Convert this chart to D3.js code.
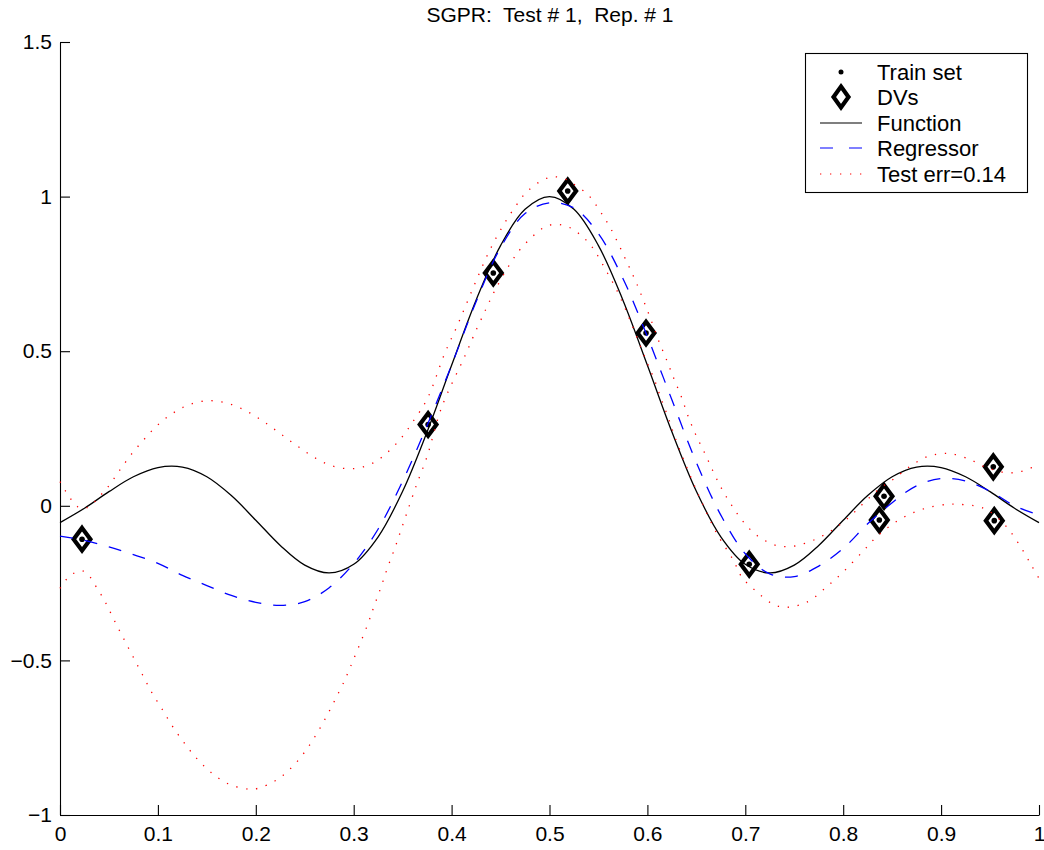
<!DOCTYPE html>
<html>
<head>
<meta charset="utf-8">
<script src="https://cdn.jsdelivr.net/npm/d3@7"></script>
<style>
  html, body { margin: 0; padding: 0; background: #fff; }
  svg { display: block; font-family: "Liberation Sans", Arial, Helvetica, sans-serif; }
</style>
</head>
<body>
<svg id="chart" width="1044" height="850"></svg>
<script>
// ---------- data ----------
const titleText = "SGPR:  Test # 1,  Rep. # 1";
const xTicks = [0, 0.1, 0.2, 0.3, 0.4, 0.5, 0.6, 0.7, 0.8, 0.9, 1];
const xTickLabels = ["0", "0.1", "0.2", "0.3", "0.4", "0.5", "0.6", "0.7", "0.8", "0.9", "1"];
const yTicks = [-1, -0.5, 0, 0.5, 1, 1.5];
const yTickLabels = ["\u22121", "\u22120.5", "0", "0.5", "1", "1.5"];
const legendLabels = ["Train set", "DVs", "Function", "Regressor", "Test err=0.14"];

// true function (black)
const funcX = [0, 0.025, 0.05, 0.075, 0.1, 0.125, 0.15, 0.175, 0.2, 0.225, 0.25, 0.275, 0.3, 0.325, 0.35, 0.375, 0.4, 0.425, 0.45, 0.475, 0.5,
               0.525, 0.55, 0.575, 0.6, 0.625, 0.65, 0.675, 0.7, 0.725, 0.75, 0.775, 0.8, 0.825, 0.85, 0.875, 0.9, 0.925, 0.95, 0.975, 1];
const funcY = [-0.0544, -0.0079, 0.0458, 0.0939, 0.1237, 0.1251, 0.0939, 0.0331, -0.0466, -0.1283, -0.1918, -0.2172, -0.1892, -0.1002, 0.0470, 0.2394, 0.4546, 0.6650, 0.8415, 0.9589, 1.0,
               0.9589, 0.8415, 0.6650, 0.4546, 0.2394, 0.0470, -0.1002, -0.1892, -0.2172, -0.1918, -0.1283, -0.0466, 0.0331, 0.0939, 0.1251, 0.1237, 0.0939, 0.0458, -0.0079, -0.0544];

// regressor (blue dashed)
const regX = funcX;
const regY = [-0.098, -0.112, -0.133, -0.158, -0.186, -0.225, -0.258, -0.290, -0.312, -0.322, -0.310, -0.265, -0.187, -0.075, 0.080, 0.260, 0.455, 0.660, 0.835, 0.945, 0.980,
              0.963, 0.880, 0.735, 0.547, 0.343, 0.140, -0.030, -0.155, -0.220, -0.229, -0.195, -0.138, -0.058, 0.010, 0.065, 0.088, 0.080, 0.047, 0.000, -0.030];

// upper error band (red dotted)
const upperX = [0, 0.005, 0.011, 0.018, 0.023, 0.027, 0.035, 0.042, 0.049, 0.061, 0.073, 0.0865, 0.0987, 0.115, 0.1328, 0.153, 0.174, 0.193, 0.21, 0.226,
                0.2434, 0.261, 0.279, 0.2996, 0.3195, 0.336, 0.35, 0.36, 0.375, 0.393, 0.406, 0.422, 0.439, 0.4535, 0.465, 0.4767, 0.494, 0.504, 0.515, 0.524,
                0.5397, 0.5516, 0.5625, 0.5805, 0.589, 0.597, 0.605, 0.612, 0.6197, 0.627, 0.635, 0.6418, 0.65, 0.6588, 0.6673, 0.6766, 0.686, 0.698, 0.7123, 0.7303,
                0.7406, 0.7508, 0.7712, 0.79, 0.8062, 0.8223, 0.837, 0.853, 0.869, 0.8877, 0.908, 0.9278, 0.9364, 0.945, 0.955, 0.966, 0.9765, 0.9863, 0.996, 1];
const upperY = [0.078, 0.051, 0.022, -0.003, -0.008, -0.007, 0.012, 0.036, 0.061, 0.115, 0.167, 0.217, 0.258, 0.299, 0.328, 0.340, 0.329, 0.302, 0.268, 0.231,
                0.191, 0.154, 0.128, 0.120, 0.138, 0.177, 0.225, 0.270, 0.345, 0.493, 0.584, 0.705, 0.827, 0.911, 0.967, 1.015, 1.055, 1.064, 1.058, 1.042,
                1.005, 0.953, 0.897, 0.778, 0.719, 0.656, 0.590, 0.530, 0.471, 0.412, 0.350, 0.288, 0.226, 0.169, 0.110, 0.051, 0.002, -0.052, -0.097, -0.127,
                -0.132, -0.130, -0.109, -0.076, -0.036, 0.013, 0.055, 0.090, 0.129, 0.161, 0.169, 0.152, 0.139, 0.125, 0.115, 0.107, 0.108, 0.115, 0.129, 0.135];

// lower error band (red dotted)
const lowerX = [0, 0.006, 0.0136, 0.0228, 0.0306, 0.0364, 0.0419, 0.047, 0.056, 0.0654, 0.0749, 0.0845, 0.0943, 0.104, 0.1147, 0.1267, 0.1396, 0.1546, 0.1716, 0.1917,
                0.2019, 0.2206, 0.2367, 0.25, 0.2615, 0.2717, 0.2812, 0.2904, 0.2945, 0.314, 0.321, 0.328, 0.3347, 0.342, 0.3487, 0.3555, 0.3623, 0.3657, 0.375, 0.39,
                0.4137, 0.422, 0.435, 0.444, 0.46, 0.4716, 0.4936, 0.504, 0.514, 0.5237, 0.532, 0.5397, 0.5465, 0.5567, 0.567, 0.5755, 0.583, 0.5986, 0.607, 0.6136,
                0.621, 0.628, 0.6435, 0.6554, 0.6708, 0.6878, 0.6963, 0.7116, 0.727, 0.7372, 0.7474, 0.7576, 0.7668, 0.7831, 0.7984, 0.8205, 0.8342, 0.85, 0.868, 0.8877,
                0.908, 0.918, 0.9387, 0.9482, 0.96, 0.9704, 0.9823, 0.9925, 1];
const lowerY = [-0.267, -0.240, -0.219, -0.210, -0.230, -0.259, -0.287, -0.316, -0.374, -0.432, -0.490, -0.548, -0.607, -0.656, -0.712, -0.766, -0.817, -0.863, -0.899, -0.916,
                -0.914, -0.888, -0.846, -0.796, -0.741, -0.684, -0.626, -0.567, -0.537, -0.386, -0.323, -0.262, -0.199, -0.137, -0.075, -0.012, 0.051, 0.081, 0.160, 0.320,
                0.485, 0.546, 0.636, 0.695, 0.784, 0.835, 0.899, 0.910, 0.907, 0.895, 0.875, 0.852, 0.823, 0.767, 0.708, 0.651, 0.595, 0.471, 0.409, 0.350,
                0.288, 0.223, 0.099, 0.013, -0.089, -0.176, -0.230, -0.278, -0.316, -0.327, -0.327, -0.318, -0.305, -0.262, -0.219, -0.146, -0.100, -0.060, -0.027, -0.005,
                0.005, 0.005, -0.003, -0.016, -0.045, -0.082, -0.138, -0.194, -0.235];

// training set and decision vectors
const trainX = [0.0225, 0.376, 0.4426, 0.5186, 0.5986, 0.704, 0.8417, 0.8369, 0.9533, 0.9543];
const trainY = [-0.108, 0.263, 0.753, 1.018, 0.559, -0.189, 0.031, -0.046, 0.126, -0.048];
const dvX = [0.0225, 0.376, 0.4426, 0.5186, 0.5986, 0.704, 0.8417, 0.8369, 0.9533, 0.9543];
const dvY = [-0.108, 0.263, 0.753, 1.018, 0.559, -0.189, 0.031, -0.046, 0.126, -0.048];

// ---------- drawing ----------
const svg = d3.select("#chart");
const x = d3.scaleLinear().domain([0, 1]).range([60, 1039]);
const y = d3.scaleLinear().domain([-1, 1.5]).range([815, 42]);

const FONT = 21;

// title (keep the double spaces)
svg.append("text")
  .attr("x", 550).attr("y", 22)
  .attr("text-anchor", "middle")
  .attr("font-size", 21)
  .attr("fill", "#000")
  .style("white-space", "pre")
  .attr("xml:space", "preserve")
  .text(titleText);

// axes
const xAxis = d3.axisBottom(x).tickValues(xTicks)
  .tickFormat((d, i) => xTickLabels[i]).tickSizeInner(-10).tickSizeOuter(0).tickPadding(11);
const yAxis = d3.axisLeft(y).tickValues(yTicks)
  .tickFormat((d, i) => yTickLabels[i]).tickSizeInner(-10).tickSizeOuter(0).tickPadding(8);

const gx = svg.append("g").attr("transform", `translate(0,${y(-1)})`).call(xAxis);
const gy = svg.append("g").attr("transform", `translate(${x(0)},0)`).call(yAxis);
[gx, gy].forEach(g => {
  g.selectAll("path, line").attr("stroke", "#000").attr("stroke-width", 1.1);
  g.selectAll("text").attr("font-size", FONT).attr("fill", "#000")
   .attr("font-family", "'Liberation Sans', Arial, sans-serif");
});

// plot marks
const plot = svg.append("g");

const diamond = (hw, hh) => `M0,${-hh}L${hw},0L0,${hh}L${-hw},0Z`;

// train set dots
plot.selectAll("circle.train").data(trainX.map((d, i) => [d, trainY[i]]))
  .enter().append("circle").attr("class", "train")
  .attr("cx", d => x(d[0])).attr("cy", d => y(d[1])).attr("r", 2.8).attr("fill", "#000");

// DVs
plot.selectAll("path.dv").data(dvX.map((d, i) => [d, dvY[i]]))
  .enter().append("path").attr("class", "dv")
  .attr("transform", d => `translate(${x(d[0])},${y(d[1])})`)
  .attr("d", diamond(8.4, 11.3))
  .attr("fill", "none").attr("stroke", "#000").attr("stroke-width", 4.2)
  .attr("stroke-linejoin", "miter").attr("stroke-miterlimit", 10);

const lineGen = d3.line().x(d => x(d[0])).y(d => y(d[1])).curve(d3.curveCatmullRom.alpha(0.5));

plot.append("path")
  .attr("d", lineGen(funcX.map((d, i) => [d, funcY[i]])))
  .attr("fill", "none").attr("stroke", "#000").attr("stroke-width", 1.3);

plot.append("path")
  .attr("d", lineGen(regX.map((d, i) => [d, regY[i]])))
  .attr("fill", "none").attr("stroke", "#0000ff").attr("stroke-width", 1.3)
  .attr("stroke-dasharray", "13,12");

[[upperX, upperY], [lowerX, lowerY]].forEach(([xs, ys]) => {
  plot.append("path")
    .attr("d", lineGen(xs.map((d, i) => [d, ys[i]])))
    .attr("fill", "none").attr("stroke", "#ff0000").attr("stroke-width", 1.3)
    .attr("stroke-dasharray", "1.3,8.7");
});

// legend
const lg = svg.append("g");
lg.append("rect").attr("x", 805.5).attr("y", 53.5).attr("width", 222).attr("height", 139)
  .attr("fill", "#fff").attr("stroke", "#000").attr("stroke-width", 1.1);
const rowY = [72, 97, 123, 148, 174];
legendLabels.forEach((lab, i) => {
  lg.append("text").attr("x", 877).attr("y", rowY[i]).attr("dy", "0.36em")
    .attr("font-size", 22).attr("fill", "#000").text(lab);
});
lg.append("circle").attr("cx", 841).attr("cy", rowY[0]).attr("r", 2.5).attr("fill", "#000");
lg.append("path").attr("transform", `translate(841,${rowY[1]})`).attr("d", diamond(7.5, 10.5))
  .attr("fill", "none").attr("stroke", "#000").attr("stroke-width", 4.2);
lg.append("line").attr("x1", 820).attr("x2", 862).attr("y1", rowY[2]).attr("y2", rowY[2])
  .attr("stroke", "#000").attr("stroke-width", 1.2);
lg.append("line").attr("x1", 820).attr("x2", 862).attr("y1", rowY[3]).attr("y2", rowY[3])
  .attr("stroke", "#0000ff").attr("stroke-width", 1.2).attr("stroke-dasharray", "13,16");
lg.append("line").attr("x1", 820).attr("x2", 862).attr("y1", rowY[4]).attr("y2", rowY[4])
  .attr("stroke", "#ff0000").attr("stroke-width", 1.2).attr("stroke-dasharray", "1.3,8.7");
</script>
</body>
</html>
